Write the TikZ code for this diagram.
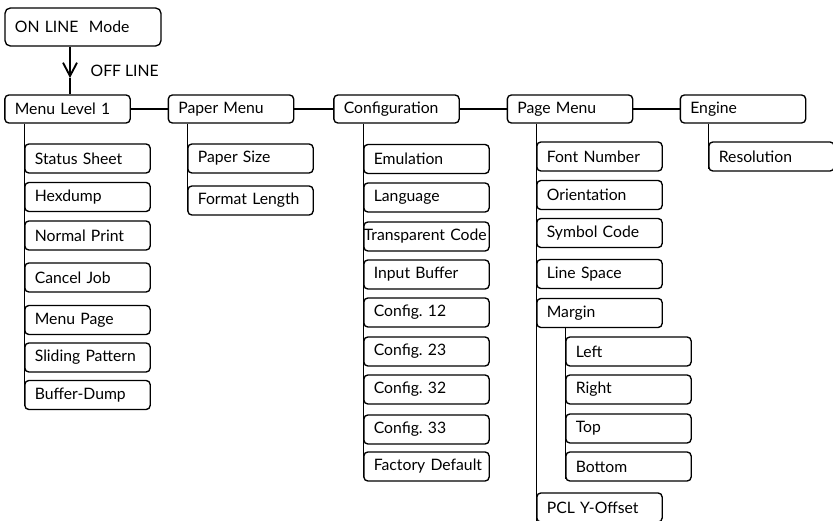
\documentclass[tikz,border=0pt]{standalone}
\usepackage{fontspec}
\setmainfont{Lato}
\usetikzlibrary{arrows.meta}
\frenchspacing

\tikzset{
    menubox/.style={draw, rounded corners=3pt, line width=1pt, minimum width=94pt, minimum height=21pt, inner xsep=7.5pt, text width=79pt, align=left,
        execute at begin node={\hbox\bgroup}, execute at end node={\egroup}},
    itembox/.style={menubox, minimum height=21.75pt},
    link/.style={line width=0.8pt},
}

\begin{document}
\begin{tikzpicture}[x=0.75pt, y=-0.75pt, font=\fontsize{11.8}{13}\selectfont]
    % Page size of the reference
    \useasboundingbox (0,0) rectangle (833,521);

    % Start box and the way into the menus
    \node[menubox, minimum width=117pt, minimum height=28.5pt, text width=102pt, rounded corners=4pt] (online) at (83,27) {ON LINE\ \ Mode};
    \coordinate (tip) at (70,78);
    \draw[link, -{Straight Barb[length=10pt, width=10.5pt, line width=1.4pt]}] (online.south -| tip) -- (tip);
    \node[anchor=west] (offline) at (86,71) {OFF LINE};

    % Top level menus
    \node[menubox] (menu1) at (67.5,109) {Menu Level 1};
    \node[menubox] (papermenu) at (231,109) {Paper Menu};
    \node[menubox] (config) at (396.5,109) {Configuration};
    \node[menubox] (pagemenu) at (570,109) {Page Menu};
    \node[menubox] (engine) at (743,109) {Engine};

    \draw[link] (tip) -- (menu1.north -| tip);
    \draw[link] (menu1) -- (papermenu);
    \draw[link] (papermenu) -- (config);
    \draw[link] (config) -- (pagemenu);
    \draw[link] (pagemenu) -- (engine);

    % Menu Level 1
    \node[itembox] (status) at (87.5,158.5) {Status Sheet};
    \node[itembox] (hexdump) at (87.5,197) {Hexdump};
    \node[itembox] (normal) at (87.5,235.5) {Normal Print};
    \node[itembox] (cancel) at (87.5,277.5) {Cancel Job};
    \node[itembox] (menupage) at (87.5,320) {Menu Page};
    \node[itembox] (sliding) at (87.5,357.5) {Sliding Pattern};
    \node[itembox] (bufdump) at (87.5,395) {Buffer-Dump};
    \draw[link] (menu1.south -| status.west) -- ([yshift=-1.5pt]bufdump.west);

    % Paper Menu
    \node[itembox] (papersize) at (250.5,158.5) {Paper Size};
    \node[itembox] (formlen) at (250.5,200.5) {Format Length};
    \draw[link] (papermenu.south -| papersize.west) -- (formlen.west);

    % Configuration
    \node[itembox] (emul) at (426.5,159) {Emulation};
    \node[itembox] (lang) at (426.5,197.5) {Language};
    \node[itembox, inner xsep=0pt, text width=94pt] (transp) at (426.5,236.5) {Transparent Code};
    \node[itembox] (inbuf) at (426.5,274.5) {Input Buffer};
    \node[itembox] (cfg12) at (426.5,312.5) {Config. 12};
    \node[itembox] (cfg23) at (426.5,351.5) {Config. 23};
    \node[itembox] (cfg32) at (426.5,389.5) {Config. 32};
    \node[itembox] (cfg33) at (426.5,429.5) {Config. 33};
    \node[itembox] (factory) at (426.5,466.5) {Factory Default};
    \draw[link] (config.south -| emul.west) -- ([yshift=-5pt]factory.west);

    % Page Menu
    \node[itembox] (fontnum) at (599.5,156.5) {Font Number};
    \node[itembox] (orient) at (599.5,195) {Orientation};
    \node[itembox] (symcode) at (599.5,233) {Symbol Code};
    \node[itembox] (linesp) at (599.5,274) {Line Space};
    \node[itembox] (margin) at (599.5,313) {Margin};
    \node[itembox] (pcl) at (599.5,507.5) {PCL Y-Offset};
    \draw[link] (pagemenu.south -| fontnum.west) -- (pcl.south west);

    % Margin
    \node[itembox] (left) at (628.5,351.5) {Left};
    \node[itembox] (right) at (628.5,389.5) {Right};
    \node[itembox] (top) at (628.5,428.5) {Top};
    \node[itembox] (bottom) at (628.5,466.5) {Bottom};
    \draw[link] (margin.south -| left.west) -- ([yshift=2pt]bottom.south west);

    % Engine
    \node[itembox] (resol) at (771.5,156.5) {Resolution};
    \draw[link] (engine.south -| resol.west) -- ([yshift=2pt]resol.south west);

\end{tikzpicture}
\end{document}
